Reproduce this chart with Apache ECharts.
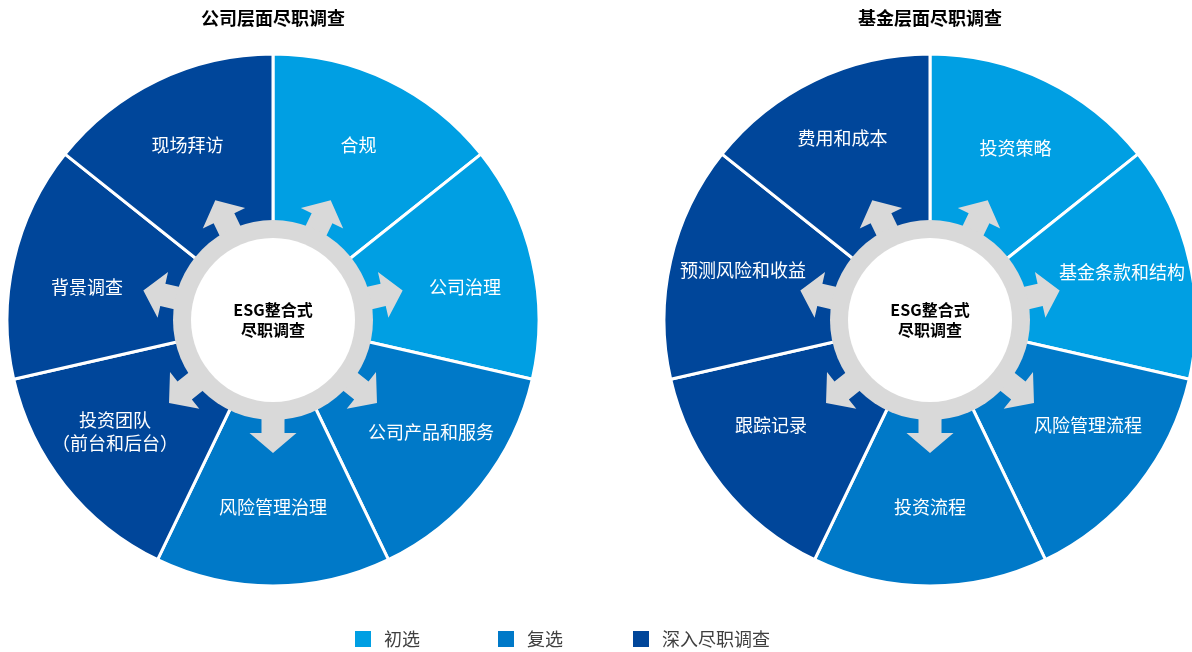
<!DOCTYPE html>
<html>
<head>
<meta charset="utf-8">
<title>ESG整合式尽职调查</title>
<script src="https://cdn.jsdelivr.net/npm/echarts@6/dist/echarts.min.js"></script>
<style>
  html, body { margin: 0; padding: 0; background: #ffffff; }
  #chart { width: 1192px; height: 652px; }
</style>
</head>
<body>
<div id="chart"></div>
<script>
// Due-diligence stages (legend) and their colours
const STAGES = ['初选', '复选', '深入尽职调查'];
const STAGE_COLORS = ['#009FE3', '#0079C8', '#00469A'];

// Company-level review items, clockwise from 12 o'clock, with their stage index
const companyItems = ['合规', '公司治理', '公司产品和服务', '风险管理治理', '投资团队\n（前台和后台）', '背景调查', '现场拜访'];
const companyStage = [0, 0, 1, 1, 2, 2, 2];

// Fund-level review items, clockwise from 12 o'clock, with their stage index
const fundItems = ['投资策略', '基金条款和结构', '风险管理流程', '投资流程', '跟踪记录', '预测风险和收益', '费用和成本'];
const fundStage = [0, 0, 1, 1, 2, 2, 2];

const panelTitles = ['公司层面尽职调查', '基金层面尽职调查'];
const hubText = 'ESG整合式\n尽职调查';

const FONT = '"Noto Sans CJK SC", "Noto Sans", sans-serif';
const RING_GREY = '#D9D9D9';

// Small hand nudges [dx, dy] for each slice caption
const companyLabelNudge = [[0, 3], [0, 11], [4, -11], [0, -10], [-4, -11], [6, 11], [0, 3]];
const fundLabelNudge = [[0, 6], [0, -4], [4, -18], [0, -10], [-5, -18], [5, -6], [-2, -4]];

// Layout of the two wheels
const panels = [
  { items: companyItems, stage: companyStage, nudge: companyLabelNudge, title: panelTitles[0], cx: 273, cy: 320 },
  { items: fundItems, stage: fundStage, nudge: fundLabelNudge, title: panelTitles[1], cx: 930, cy: 320 }
];
const R_OUT = 266;     // outer radius of wheel
const R_RING = 100;    // grey hub ring outer radius
const R_HUB = 82;      // white hub radius
const ARROW_R = 110.5; // centre of each outward arrow
const arrowPath = 'path://M23.5,0 L47,20 L35,20 L35,45 L12,45 L12,20 L0,20 Z';

const polar = [], angleAxis = [], radiusAxis = [], series = [], graphic = [];

panels.forEach((p, k) => {
  const n = p.items.length;
  const sliceData = p.items.map((name, i) => ({
    name: name,
    value: 1,
    itemStyle: { color: STAGE_COLORS[p.stage[i]] }
  }));

  polar.push({ center: [p.cx, p.cy], radius: R_OUT });
  angleAxis.push({ polarIndex: k, type: 'value', min: 0, max: 360, startAngle: 90, clockwise: true, show: false });
  radiusAxis.push({ polarIndex: k, type: 'value', min: 0, max: R_OUT, show: false });

  // coloured slices
  series.push({
    type: 'pie', z: 1, silent: true,
    center: [p.cx, p.cy], radius: [0, R_OUT],
    startAngle: 90, clockwise: true,
    label: { show: false }, labelLine: { show: false },
    itemStyle: { borderColor: '#ffffff', borderWidth: 3 },
    data: sliceData
  });

  // slice names, placed on the outer band
  series.push({
    type: 'pie', z: 6, silent: true,
    center: [p.cx, p.cy], radius: [122, R_OUT],
    startAngle: 90, clockwise: true,
    itemStyle: { color: 'rgba(0,0,0,0)' },
    label: {
      show: true, position: 'inside',
      color: '#ffffff', fontFamily: FONT, fontSize: 18, lineHeight: 23
    },
    labelLine: { show: false },
    labelLayout: params => ({ dx: p.nudge[params.dataIndex][0], dy: p.nudge[params.dataIndex][1] }),
    data: p.items.map(name => ({ name: name, value: 1 }))
  });

  // outward arrows at the middle of each slice
  series.push({
    type: 'scatter', z: 2, silent: true,
    coordinateSystem: 'polar', polarIndex: k,
    symbol: arrowPath, symbolSize: [47, 45],
    itemStyle: { color: RING_GREY, opacity: 1 },
    data: p.items.map((name, i) => {
      const a = (i + 0.5) * 360 / n;
      return { value: [ARROW_R, a], symbolRotate: -a };
    })
  });

  // grey hub ring
  series.push({
    type: 'pie', z: 3, silent: true,
    center: [p.cx, p.cy], radius: [0, R_RING],
    label: { show: false }, labelLine: { show: false },
    itemStyle: { color: RING_GREY },
    data: [{ name: 'ring', value: 1 }]
  });

  // white hub with caption
  series.push({
    type: 'pie', z: 4, silent: true,
    center: [p.cx, p.cy], radius: [0, R_HUB],
    itemStyle: { color: '#ffffff' },
    label: {
      show: true, position: 'center', formatter: hubText,
      color: '#000000', fontFamily: FONT, fontSize: 16, fontWeight: 'bold', lineHeight: 20,
      padding: [6, 0, 0, 0]
    },
    labelLine: { show: false },
    data: [{ name: 'hub', value: 1 }]
  });

  graphic.push({
    type: 'text', x: p.cx, y: 18,
    style: {
      text: p.title, fill: '#000000', font: 'bold 18px ' + FONT,
      textAlign: 'center', textVerticalAlign: 'middle'
    }
  });
});

// stage entries for the legend
STAGES.forEach((s, i) => {
  series.push({
    type: 'scatter', name: s, coordinateSystem: 'polar', polarIndex: 0,
    itemStyle: { color: STAGE_COLORS[i], opacity: 1 }, data: []
  });
});

const legendLeft = [355, 498, 633];
const legend = STAGES.map((s, i) => ({
  data: [s], left: legendLeft[i], top: 630, padding: 0,
  icon: 'rect', itemWidth: 16, itemHeight: 16, selectedMode: false,
  itemStyle: { opacity: 1 },
  textStyle: { color: '#404040', fontFamily: FONT, fontSize: 18, padding: [0, 0, 0, 8] }
}));

const chart = echarts.init(document.getElementById('chart'), null, { renderer: 'canvas' });
chart.setOption({
  backgroundColor: '#ffffff',
  animation: false,
  polar, angleAxis, radiusAxis,
  legend,
  graphic,
  series
});
</script>
</body>
</html>
